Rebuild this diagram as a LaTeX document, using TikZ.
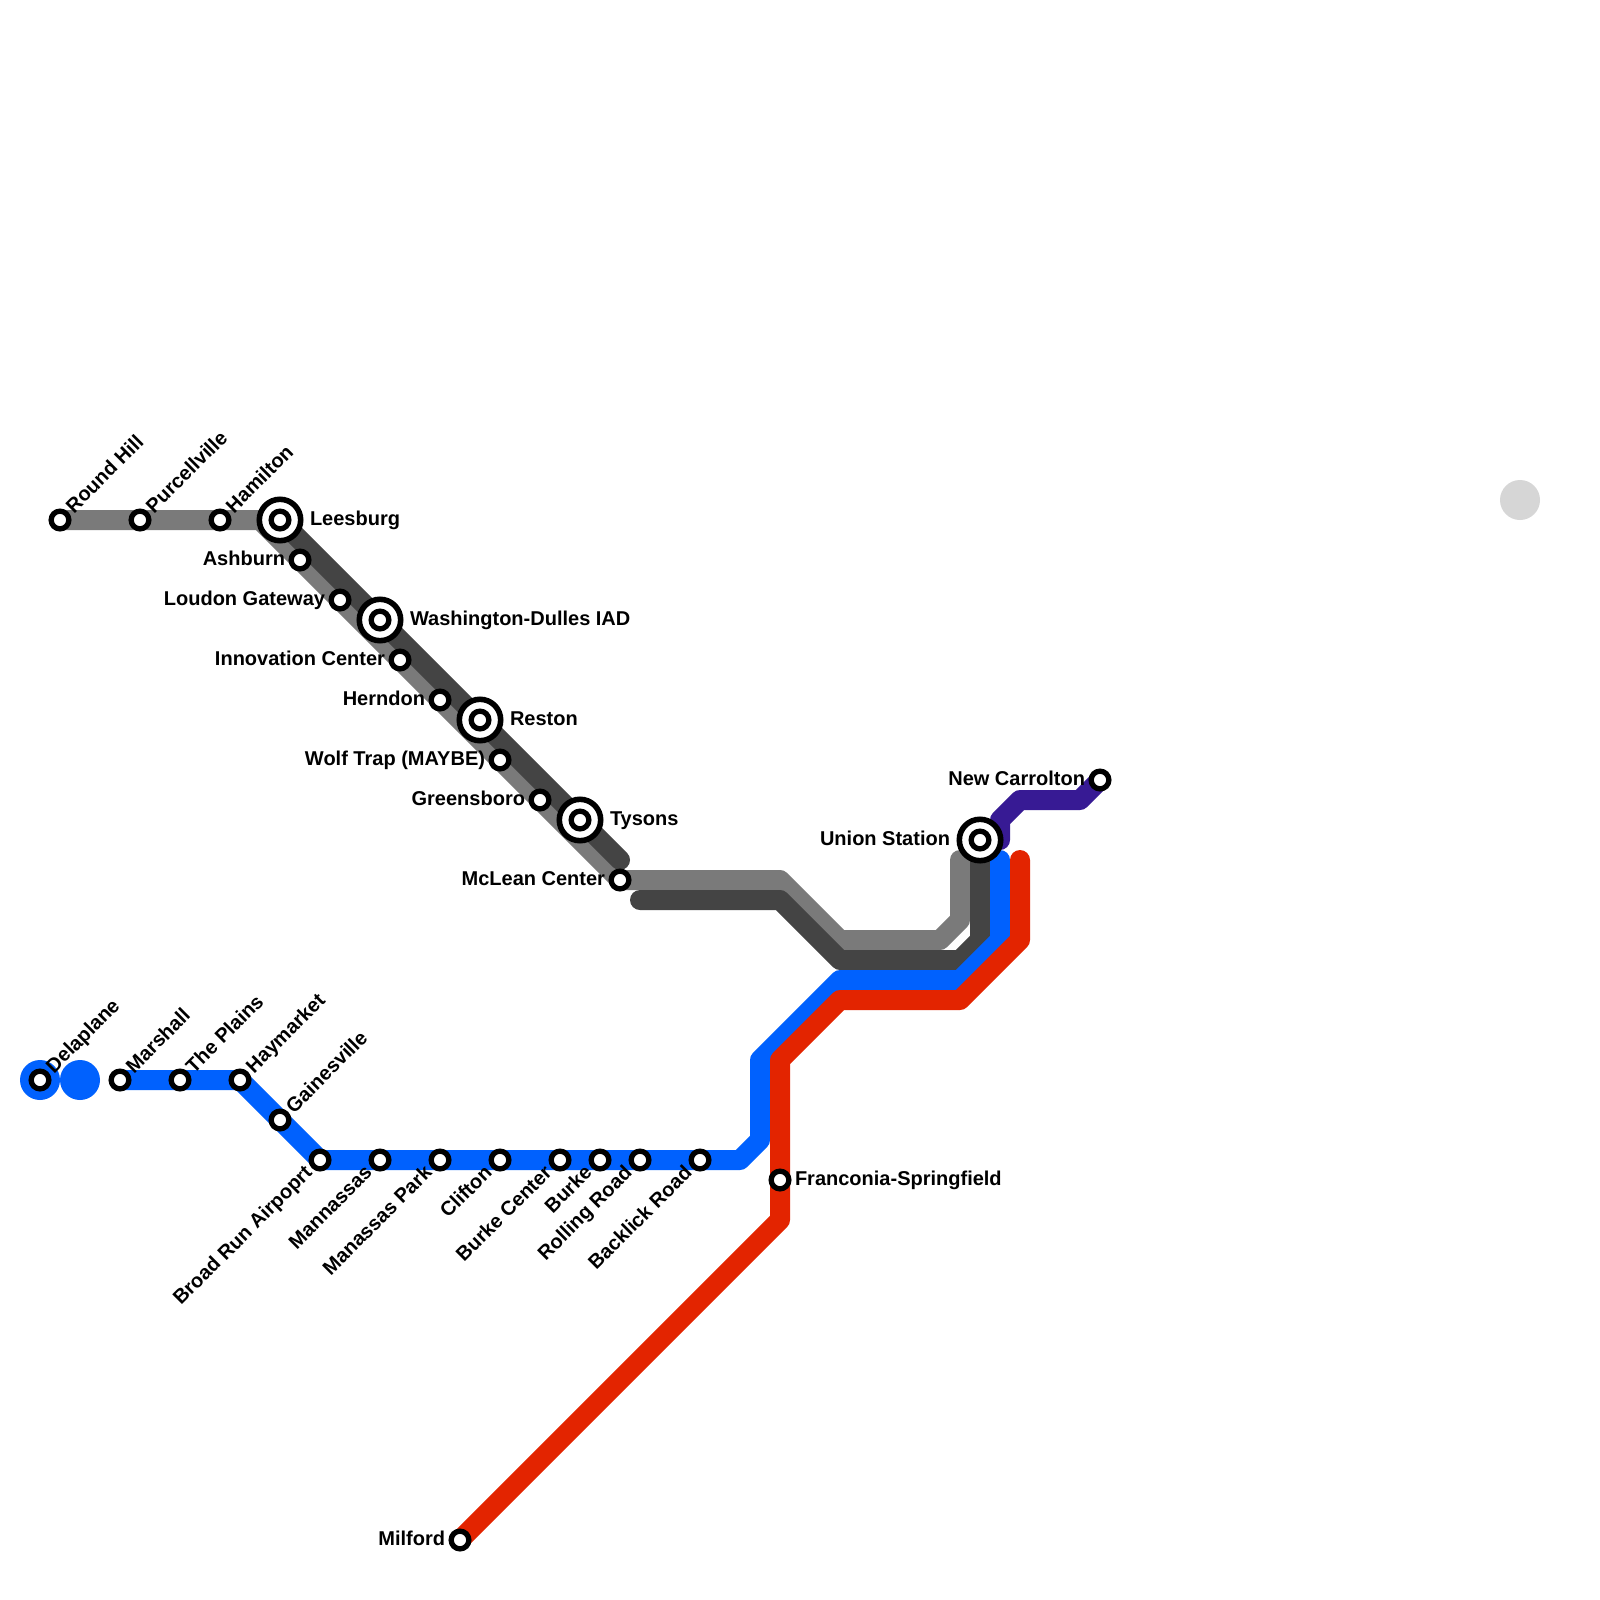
\documentclass[tikz,border=0pt]{standalone}
\usepackage{fontspec}
\setmainfont{Liberation Sans}
\definecolor{ltgray}{HTML}{7A7A7A}
\definecolor{dkgray}{HTML}{444444}
\definecolor{lineblue}{HTML}{0061FE}
\definecolor{linered}{HTML}{E32400}
\definecolor{linepurple}{HTML}{371A94}
\definecolor{dotgray}{HTML}{D6D6D6}
\pgfdeclarelayer{lines}
\pgfsetlayers{lines,main}
\tikzset{
  route/.style={line width=20pt,line cap=round,line join=round},
  stn/.style={circle,draw=black,fill=white,line width=5.3pt,minimum size=17.7pt,inner sep=0pt,outer sep=0pt},
  hub/.style={circle,draw=black,fill=white,line width=5.6pt,minimum size=41.4pt,inner sep=0pt,outer sep=0pt},
  dot/.style={circle,minimum size=40pt,inner sep=0pt,outer sep=0pt},
  lbl/.style={inner sep=0pt,outer sep=0pt,font=\fontsize{20}{24}\selectfont\bfseries,text=black},
  rlbl/.style={lbl,anchor=base west},
  llbl/.style={lbl,anchor=base east},
  ulbl/.style={lbl,anchor=base west,rotate=45},
  dlbl/.style={lbl,anchor=base east,rotate=45},
}
\begin{document}
\begin{tikzpicture}[x=1pt,y=-1pt]
\useasboundingbox (0,0) rectangle (1600,1600);
% decorative dots
\node[dot,fill=lineblue] (dotA) at (40,1080) {};
\node[dot,fill=lineblue] (dotB) at (80,1080) {};
\node[dot,fill=dotgray] (dotC) at (1520,500) {};
% hubs
\node[hub] (leesburgRing) at (280,520) {};
\node[hub] (dullesRing) at (380,620) {};
\node[hub] (restonRing) at (480,720) {};
\node[hub] (tysonsRing) at (580,820) {};
\node[hub] (unionRing) at (980,840) {};
% stations
\foreach \n/\x/\y in {roundhill/60/520,purcellville/140/520,hamilton/220/520,leesburg/280/520,
  ashburn/300/560,loudon/340/600,dulles/380/620,innovation/400/660,herndon/440/700,reston/480/720,
  wolftrap/500/760,greensboro/540/800,tysons/580/820,mclean/620/880,union/980/840,carrollton/1100/780,
  delaplane/40/1080,marshall/120/1080,plains/180/1080,haymarket/240/1080,gainesville/280/1120,
  broadrun/320/1160,mannassas/380/1160,manassaspark/440/1160,clifton/500/1160,burkecenter/560/1160,
  burke/600/1160,rolling/640/1160,backlick/700/1160,franconia/780/1180,milford/460/1540}
  {\node[stn] (\n) at (\x,\y) {};}
% bends
\coordinate (g1) at (260,520);
\coordinate (g2) at (780,880);
\coordinate (g3) at (840,940);
\coordinate (g4) at (940,940);
\coordinate (g5) at (960,920);
\coordinate (g6) at (960,860);
\coordinate (d1) at (620,860);
\coordinate (d2) at (640,900);
\coordinate (d3) at (780,900);
\coordinate (d4) at (840,960);
\coordinate (d5) at (960,960);
\coordinate (d6) at (980,940);
\coordinate (b1) at (1000,860);
\coordinate (b2) at (1000,940);
\coordinate (b3) at (960,980);
\coordinate (b4) at (840,980);
\coordinate (b5) at (760,1060);
\coordinate (b6) at (760,1140);
\coordinate (b7) at (740,1160);
\coordinate (r1) at (1020,860);
\coordinate (r2) at (1020,940);
\coordinate (r3) at (960,1000);
\coordinate (r4) at (840,1000);
\coordinate (r5) at (780,1060);
\coordinate (r6) at (780,1220);
\coordinate (p1) at (1000,840);
\coordinate (p2) at (1000,820);
\coordinate (p3) at (1020,800);
\coordinate (p4) at (1080,800);
\begin{pgfonlayer}{lines}
\fill[white] (0,0) rectangle (1600,1600);
\draw[route,linepurple] (carrollton.center) -- (p4) -- (p3) -- (p2) -- (p1);
\draw[route,ltgray] (roundhill.center) -- (g1) -- (mclean.center) -- (g2) -- (g3) -- (g4) -- (g5) -- (g6);
\draw[route,dkgray] (leesburg.center) -- (d1);
\draw[route,dkgray] (d2) -- (d3) -- (d4) -- (d5) -- (d6) -- (union.center);
\draw[route,lineblue] (marshall.center) -- (haymarket.center) -- (broadrun.center) -- (b7) -- (b6) -- (b5) -- (b4) -- (b3) -- (b2) -- (b1);
\draw[route,linered] (r1) -- (r2) -- (r3) -- (r4) -- (r5) -- (r6) -- (milford.center);
\end{pgfonlayer}
% labels up-right
\foreach \n/\t in {roundhill/Round Hill,purcellville/Purcellville,hamilton/Hamilton,delaplane/Delaplane,marshall/Marshall,plains/The Plains,haymarket/Haymarket,gainesville/Gainesville}
  {\node[ulbl] (\n Label) at ([xshift=14pt,yshift=6pt]\n.center) {\t};}
% labels down-left
\foreach \n/\t in {broadrun/Broad Run Airpoprt,mannassas/Mannassas,manassaspark/Manassas Park,clifton/Clifton,burkecenter/Burke Center,burke/Burke,rolling/Rolling Road,backlick/Backlick Road}
  {\node[dlbl] (\n Label) at ([xshift=-7pt,yshift=-14pt]\n.center) {\t};}
% labels right
\foreach \n/\t/\o in {leesburg/Leesburg/30,dulles/Washington-Dulles IAD/30,reston/Reston/30,tysons/Tysons/30,franconia/Franconia-Springfield/15}
  {\node[rlbl] (\n Label) at ([xshift=\o pt,yshift=-5pt]\n.center) {\t};}
% labels left
\foreach \n/\t/\o in {ashburn/Ashburn/15,loudon/Loudon Gateway/15,innovation/Innovation Center/15,herndon/Herndon/15,wolftrap/Wolf Trap (MAYBE)/15,greensboro/Greensboro/15,mclean/McLean Center/15,union/Union Station/30,carrollton/New Carrolton/15,milford/Milford/15}
  {\node[llbl] (\n Label) at ([xshift=-\o pt,yshift=-5pt]\n.center) {\t};}
\end{tikzpicture}
\end{document}
